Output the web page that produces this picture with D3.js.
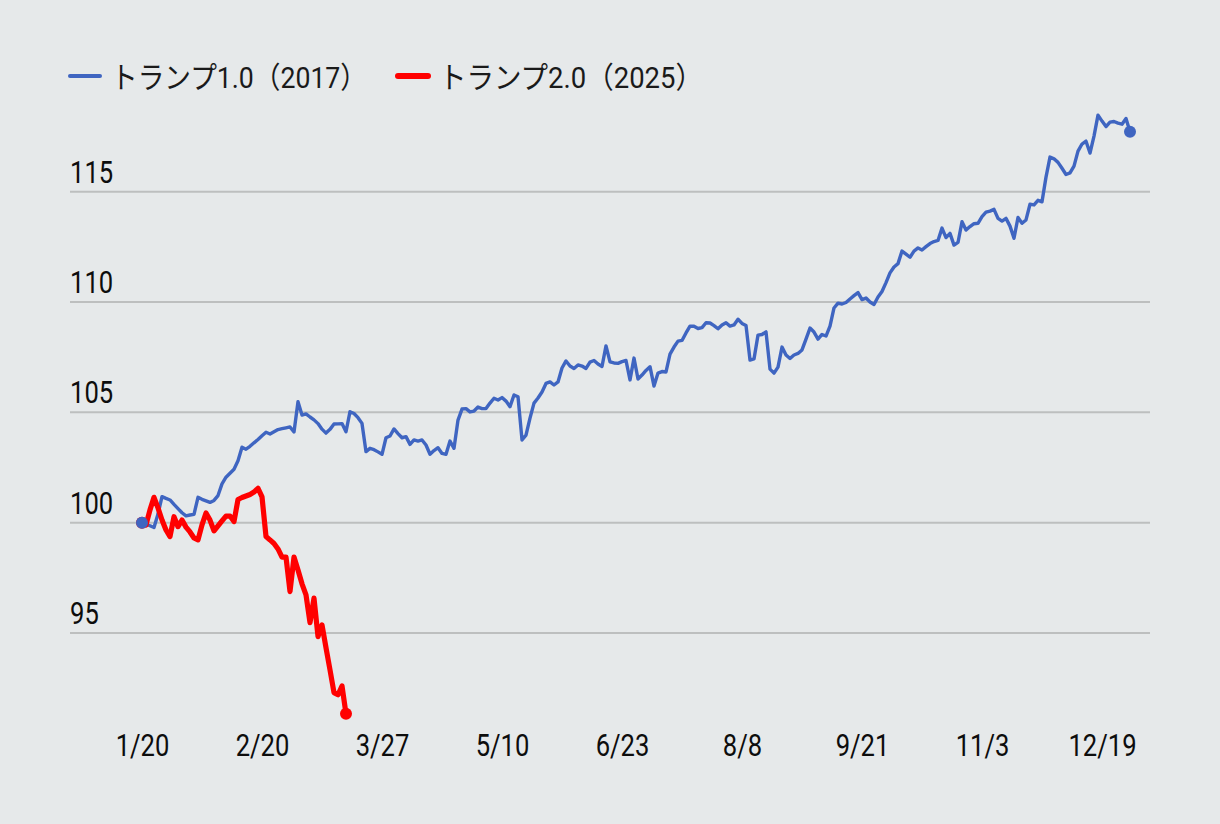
<!DOCTYPE html>
<html><head><meta charset="utf-8">
<script src="https://cdn.jsdelivr.net/npm/d3@7"></script>
<style>html,body{margin:0;padding:0;background:#e6e9ea;} svg{display:block}</style>
</head><body><svg id="c" width="1220" height="824"></svg>
<script>
// ---- data ----
const xTickLabels = ["1/20","2/20","3/27","5/10","6/23","8/8","9/21","11/3","12/19"];
const xTickIndex = [0,30,60,90,120,150,180,210,240];
const yTicks = [95,100,105,110,115];
const seriesNames = ["トランプ1.0（2017）","トランプ2.0（2025）"];
const trump1 = [
100.00,99.93,99.86,99.78,100.39,101.18,101.10,101.03,100.83,100.64,
100.45,100.31,100.35,100.38,101.15,101.06,100.99,100.92,101.01,101.23,
101.76,102.06,102.24,102.42,102.81,103.42,103.33,103.46,103.62,103.77,
103.94,104.10,104.02,104.12,104.22,104.26,104.30,104.34,104.11,105.48,
104.88,104.93,104.79,104.66,104.49,104.24,104.06,104.23,104.47,104.48,
104.49,104.12,105.03,104.95,104.76,104.50,103.22,103.37,103.31,103.21,
103.10,103.85,103.93,104.25,104.04,103.85,103.90,103.55,103.75,103.70,
103.75,103.52,103.10,103.27,103.40,103.14,103.10,103.70,103.37,104.65,
105.15,105.17,105.02,105.06,105.24,105.17,105.17,105.42,105.64,105.56,
105.67,105.51,105.26,105.79,105.71,103.75,103.97,104.74,105.42,105.65,
105.92,106.31,106.38,106.24,106.38,107.01,107.33,107.10,106.99,107.15,
107.10,106.99,107.28,107.35,107.19,107.08,108.01,107.29,107.24,107.22,
107.30,107.35,106.47,107.46,106.51,106.69,106.90,107.07,106.19,106.78,
106.85,106.83,107.64,107.96,108.23,108.26,108.60,108.91,108.90,108.80,
108.84,109.06,109.05,108.93,108.79,108.96,109.06,108.91,108.96,109.22,
109.03,108.94,107.37,107.42,108.50,108.53,108.65,106.96,106.78,107.05,
107.96,107.60,107.44,107.60,107.67,107.83,108.32,108.82,108.64,108.32,
108.53,108.46,108.91,109.73,109.95,109.91,109.98,110.14,110.29,110.43,
110.11,110.18,110.00,109.89,110.23,110.48,110.88,111.32,111.59,111.74,
112.31,112.17,112.03,112.31,112.45,112.36,112.51,112.65,112.74,112.79,
113.35,112.92,113.11,112.58,112.70,113.64,113.26,113.42,113.55,113.57,
113.87,114.07,114.12,114.20,113.79,113.67,113.79,113.44,112.89,113.83,
113.57,113.72,114.43,114.40,114.61,114.54,115.66,116.57,116.49,116.33,
116.06,115.78,115.85,116.16,116.84,117.16,117.29,116.75,117.52,118.47,
118.20,117.95,118.15,118.18,118.11,118.06,118.32,117.72
];
const trump2 = [
100.00,99.90,100.58,101.15,100.67,100.12,99.67,99.37,100.27,99.82,
100.12,99.80,99.58,99.31,99.22,99.90,100.44,100.12,99.63,99.86,
100.08,100.30,100.30,100.05,101.05,101.14,101.21,101.28,101.39,101.56,
101.17,99.37,99.22,99.06,98.81,98.44,98.44,96.88,98.44,97.86,
97.23,96.73,95.47,96.58,94.84,95.37,94.33,93.33,92.30,92.20,
92.60,91.34
];

// ---- chart ----
const W = 1220, H = 824;
const svg = d3.select("#c");
const NUMFONT = "Roboto,'Noto Sans CJK JP',sans-serif";
const SX = 0.8;
svg.append("rect").attr("width",W).attr("height",H).attr("fill","#e6e9ea");

const x = d3.scaleLinear().domain([0, 247]).range([142, 1130]);
const y = d3.scaleLinear().domain([100, 115]).range([522.7, 191.7]);

// gridlines + y labels
const gy = svg.append("g");
gy.selectAll("line").data(yTicks).join("line")
  .attr("x1",70).attr("x2",1150)
  .attr("y1",d=>y(d)).attr("y2",d=>y(d))
  .attr("stroke","#bdbfbf").attr("stroke-width",2);
gy.selectAll("text").data(yTicks).join("text")
  .attr("transform",d=>`translate(70,${y(d)-9}) scale(${SX},1)`)
  .attr("font-family",NUMFONT).attr("font-size",32).attr("fill","#0d0d0d")
  .text(d=>d);

// x axis labels
const xAxis = d3.axisBottom(x).tickValues(xTickIndex)
  .tickFormat((d,i)=>xTickLabels[i]).tickSize(0).tickPadding(0);
const gx = svg.append("g").attr("transform","translate(0,756)").call(xAxis);
gx.select(".domain").remove();
gx.selectAll("text").attr("font-family",NUMFONT).attr("font-size",32)
  .attr("fill","#0d0d0d").attr("y",0).attr("dy",0)
  .attr("transform",`scale(${SX},1)`);

// lines
const line = d3.line().x((d,i)=>x(i)).y(d=>y(d)).curve(d3.curveLinear);
svg.append("path").datum(trump1).attr("d",line).attr("fill","none")
  .attr("stroke","#3f65c1").attr("stroke-width",3.4).attr("stroke-linejoin","round");
svg.append("path").datum(trump2).attr("d",line).attr("fill","none")
  .attr("stroke","#ff0000").attr("stroke-width",5.2).attr("stroke-linejoin","round");

// end markers
svg.append("circle").attr("cx",x(trump2.length-1)).attr("cy",y(trump2[trump2.length-1])).attr("r",6).attr("fill","#ff0000");
svg.append("circle").attr("cx",x(0)).attr("cy",y(trump2[0])).attr("r",6).attr("fill","#ff0000");
svg.append("circle").attr("cx",x(0)).attr("cy",y(trump1[0])).attr("r",6).attr("fill","#3f65c1");
svg.append("circle").attr("cx",x(trump1.length-1)).attr("cy",y(trump1[trump1.length-1])).attr("r",6).attr("fill","#3f65c1");

// legend
const legendColors = ["#3f65c1","#ff0000"];
const legendX = [70, 398];
const legendTextW = [256, 264];
const lg = svg.append("g");
seriesNames.forEach((name,i)=>{
  lg.append("line").attr("x1",legendX[i]).attr("x2",legendX[i]+30)
    .attr("y1",76).attr("y2",76).attr("stroke",legendColors[i])
    .attr("stroke-width", i===0?4:6).attr("stroke-linecap","round");
  lg.append("text").attr("x",legendX[i]+41).attr("y",88)
    .attr("font-family",NUMFONT).attr("font-size",30).attr("fill","#1a1a1a")
    .attr("textLength",legendTextW[i]).attr("lengthAdjust","spacingAndGlyphs")
    .text(name);
});
</script></body></html>
